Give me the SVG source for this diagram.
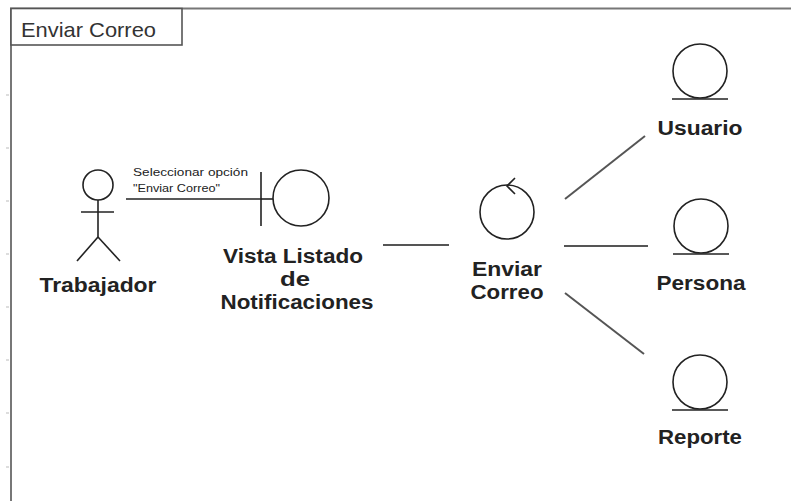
<svg xmlns="http://www.w3.org/2000/svg" width="791" height="501" viewBox="0 0 791 501">
<style>
.shape{fill:#fff;stroke:#222;stroke-width:1.6}
.lbl{font-family:"Liberation Sans",Arial,sans-serif;font-weight:bold;font-size:20px;fill:#222;text-anchor:middle}
.conn{stroke:#555;stroke-width:2;fill:none}
.tick{stroke:#ddd;stroke-width:2}
.small{font-family:"Liberation Sans",Arial,sans-serif;font-size:11px;fill:#222}
</style>
<rect width="791" height="501" fill="#fff"/>
<g id="frame">
<path d="M11 501 V8.5 H791" fill="none" stroke="#777" stroke-width="2"/>
<rect x="11" y="8.5" width="171" height="36.5" fill="#fff" stroke="#555" stroke-width="1.6"/>
<text x="21" y="37" font-family="'Liberation Sans',Arial,sans-serif" font-size="21" fill="#333" textLength="135" lengthAdjust="spacingAndGlyphs">Enviar Correo</text>
<g class="tick"><line x1="6" y1="95" x2="9" y2="95"/><line x1="6" y1="148" x2="9" y2="148"/><line x1="6" y1="201" x2="9" y2="201"/><line x1="6" y1="254" x2="9" y2="254"/><line x1="6" y1="307" x2="9" y2="307"/><line x1="6" y1="360" x2="9" y2="360"/><line x1="6" y1="413" x2="9" y2="413"/><line x1="6" y1="467" x2="9" y2="467"/></g>
</g>
<g id="connectors">
<line x1="126" y1="199" x2="262" y2="199" stroke="#222" stroke-width="1.6"/>
<text class="small" x="133" y="176" textLength="115" lengthAdjust="spacingAndGlyphs">Seleccionar opción</text>
<text class="small" x="133" y="192" textLength="87" lengthAdjust="spacingAndGlyphs">"Enviar Correo"</text>
<line class="conn" x1="383" y1="245" x2="449" y2="245"/>
<line class="conn" x1="565" y1="199" x2="645" y2="136"/>
<line class="conn" x1="564" y1="246" x2="648" y2="246"/>
<line class="conn" x1="565" y1="293" x2="644" y2="354"/>
</g>
<g id="trabajador">
<circle class="shape" cx="98" cy="185" r="15"/>
<line class="shape" x1="98" y1="200" x2="98" y2="237"/>
<line class="shape" x1="81" y1="212" x2="114" y2="212"/>
<line class="shape" x1="98" y1="237" x2="77" y2="261"/>
<line class="shape" x1="98" y1="237" x2="120" y2="261"/>
<text class="lbl" x="98" y="292" textLength="117" lengthAdjust="spacingAndGlyphs">Trabajador</text>
</g>
<g id="vista">
<line class="shape" x1="261" y1="172" x2="261" y2="226"/>
<line class="shape" x1="261" y1="199" x2="273" y2="199"/>
<circle class="shape" cx="301" cy="198" r="28"/>
<text class="lbl" x="293" y="263" textLength="140" lengthAdjust="spacingAndGlyphs">Vista Listado</text>
<text class="lbl" x="295" y="286" textLength="30" lengthAdjust="spacingAndGlyphs">de</text>
<text class="lbl" x="297" y="309" textLength="153" lengthAdjust="spacingAndGlyphs">Notificaciones</text>
</g>
<g id="control">
<circle class="shape" cx="507" cy="212" r="27"/>
<polyline points="515,178 507,186 515,194" fill="none" stroke="#222" stroke-width="1.6"/>
<text class="lbl" x="507" y="276" textLength="70" lengthAdjust="spacingAndGlyphs">Enviar</text>
<text class="lbl" x="507" y="299" textLength="73" lengthAdjust="spacingAndGlyphs">Correo</text>
</g>
<g id="usuario">
<circle class="shape" cx="700" cy="71" r="27"/>
<line class="shape" x1="672" y1="99" x2="728" y2="99"/>
<text class="lbl" x="700" y="135" textLength="85" lengthAdjust="spacingAndGlyphs">Usuario</text>
</g>
<g id="persona">
<circle class="shape" cx="701" cy="226" r="27"/>
<line class="shape" x1="673" y1="254" x2="729" y2="254"/>
<text class="lbl" x="701" y="290" textLength="89" lengthAdjust="spacingAndGlyphs">Persona</text>
</g>
<g id="reporte">
<circle class="shape" cx="700" cy="382" r="27"/>
<line class="shape" x1="672" y1="410" x2="728" y2="410"/>
<text class="lbl" x="700" y="444" textLength="84" lengthAdjust="spacingAndGlyphs">Reporte</text>
</g>
</svg>
